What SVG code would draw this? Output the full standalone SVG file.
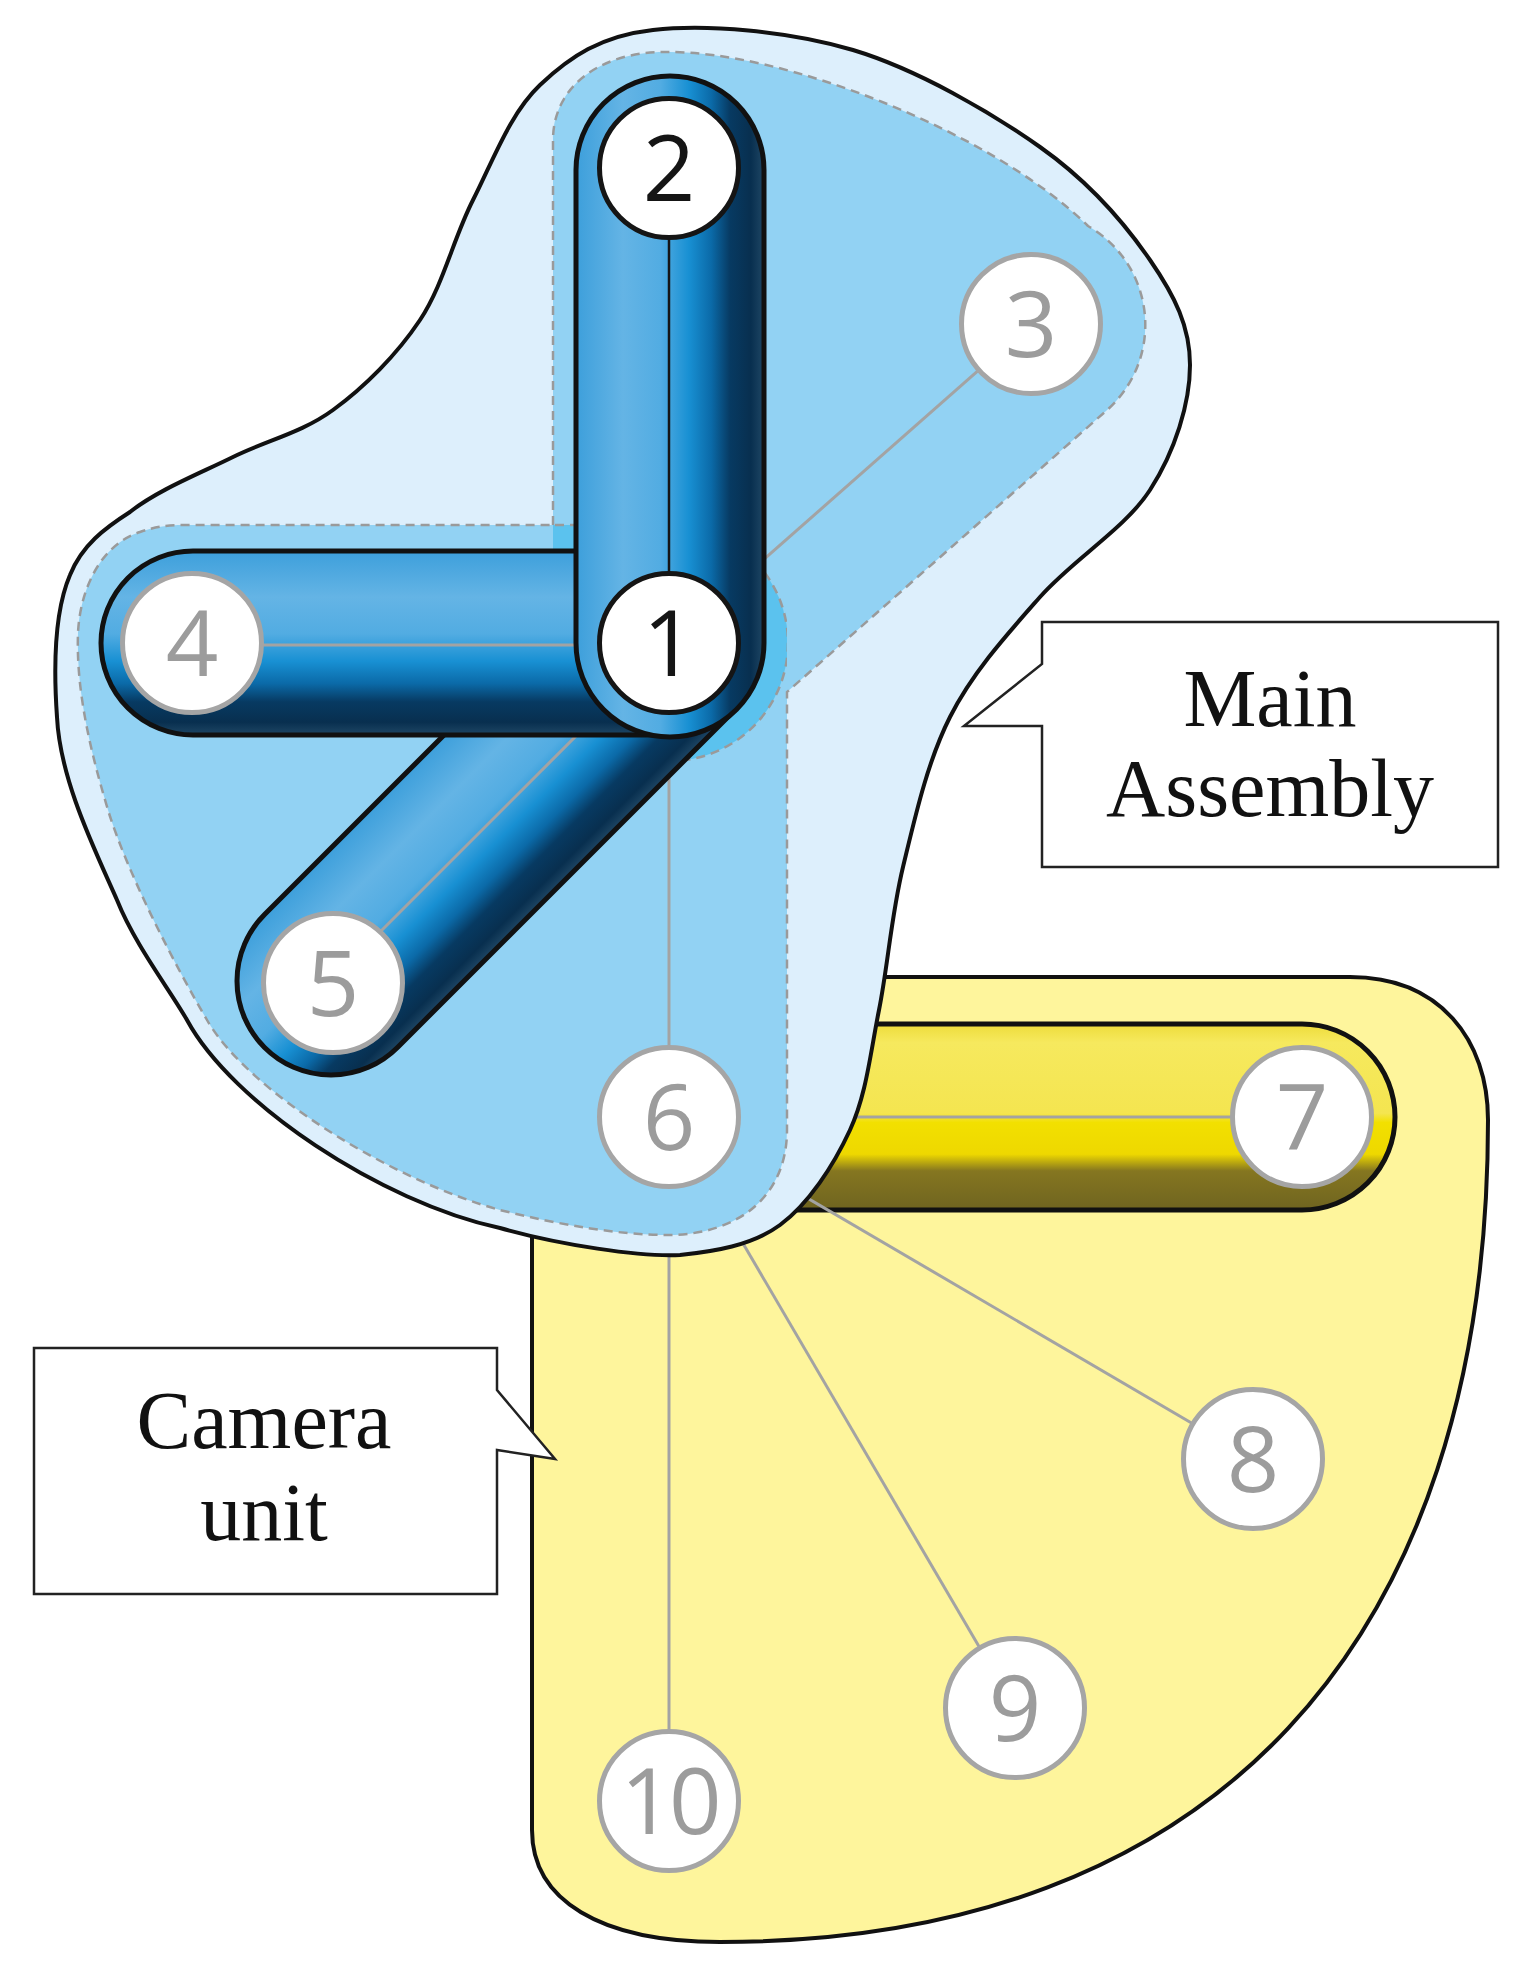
<svg xmlns="http://www.w3.org/2000/svg" width="1532" height="1973" viewBox="0 0 1532 1973">
<defs>
<linearGradient id="gH" x1="0" y1="0" x2="1" y2="0">
<stop offset="0" stop-color="#3d9fdb"/><stop offset="0.25" stop-color="#64b4e5"/><stop offset="0.45" stop-color="#52ace2"/><stop offset="0.6" stop-color="#1890d3"/><stop offset="0.72" stop-color="#0b6aa8"/><stop offset="0.82" stop-color="#073a62"/><stop offset="0.93" stop-color="#082f4f"/><stop offset="1" stop-color="#1f4765"/>
</linearGradient>
<linearGradient id="gV" x1="0" y1="0" x2="0" y2="1">
<stop offset="0" stop-color="#3d9fdb"/><stop offset="0.25" stop-color="#64b4e5"/><stop offset="0.45" stop-color="#52ace2"/><stop offset="0.6" stop-color="#1890d3"/><stop offset="0.72" stop-color="#0b6aa8"/><stop offset="0.82" stop-color="#073a62"/><stop offset="0.93" stop-color="#082f4f"/><stop offset="1" stop-color="#1f4765"/>
</linearGradient>
<linearGradient id="gY" x1="0" y1="0" x2="0" y2="1">
<stop offset="0" stop-color="#eedc3a"/><stop offset="0.1" stop-color="#f6e95e"/><stop offset="0.48" stop-color="#f4e550"/><stop offset="0.53" stop-color="#f2e000"/><stop offset="0.7" stop-color="#eed800"/><stop offset="0.79" stop-color="#857620"/><stop offset="1" stop-color="#6f6420"/>
</linearGradient>
<clipPath id="band"><rect x="553" y="0" width="234" height="1973"/></clipPath>
</defs>
<style>
.tube{stroke:#111;stroke-width:5}
.link{stroke:#a3a3a3;stroke-width:3;fill:none}
.node circle{fill:#fff;stroke-width:5}
.dark circle{stroke:#151515}
.dark text{fill:#151515}
.light circle{stroke:#a5a5a5}
.light text{fill:#9c9c9c}
.node text{font-family:"Open Sans","Noto Sans",sans-serif;font-size:92px;text-anchor:middle}
.callout path{fill:#fff;stroke:#222;stroke-width:2.5}
.callout text{font-family:"Liberation Serif",serif;font-size:82px;text-anchor:middle;fill:#111}
.dash{stroke:#9a9a9a;stroke-width:2.5;stroke-dasharray:9 6}
</style>
<rect x="0" y="0" width="1532" height="1973" fill="#ffffff"/>

<g id="camera-unit">
<path d="M 820,977 L 1350,977 C 1440,977 1488,1040 1488,1120 C 1488,1645 1212,1942 720,1942 C 600,1942 532,1900 532,1830 L 532,1150 Z" fill="#fef59c" stroke="#111" stroke-width="4"/>
<rect class="tube" x="576" y="1024" width="819" height="186" rx="93" fill="url(#gY)"/>
</g>

<g id="connectors-camera">
<line class="link" x1="669" y1="1117" x2="1302" y2="1117"/>
<line class="link" x1="669" y1="1117" x2="1253" y2="1459"/>
<line class="link" x1="669" y1="1117" x2="1015" y2="1708"/>
<line class="link" x1="669" y1="1117" x2="669" y2="1801"/>
</g>

<g id="main-assembly">
<path d="M 653,30 C 705.2,24.2 788.5,30.5 853,50 C 917.5,69.5 990.5,112 1040,147 C 1089.5,182 1125,223.7 1150,260 C 1175,296.3 1190,326.7 1190,365 C 1190,403.3 1175,451.3 1150,490 C 1125,528.7 1073.3,559.2 1040,597 C 1006.7,634.8 972.8,672 950,717 C 927.2,762 914.8,818.2 903,867 C 891.2,915.8 887.8,966.2 879,1010 C 870.2,1053.8 866.5,1094.2 850,1130 C 833.5,1165.8 808.3,1204.2 780,1225 C 751.7,1245.8 713.3,1251.5 680,1255 C 640,1257 560,1245 500,1228 C 380,1202 232,1103 187,1020 C 170,990 135,945 117,900 C 95,850 60,780 57,717 C 53,660 55,610 70,575 C 82,545 105,528 130,512 C 157.2,490.3 199.2,473.7 233,457 C 266.8,440.3 301.8,432.8 333,410 C 364.2,387.2 396.7,355 420,320 C 443.3,285 453,239.2 473,200 C 493,160.8 510,113.3 540,85 C 570,56.7 600.8,35.8 653,30 Z" fill="#ddeffc" stroke="#111" stroke-width="4"/>
<path class="dash" d="M 553,525 L 553,140 C 553,88 598,52 665,52 C 780,50 990,130 1088,226 A 114 114 0 0 1 1106,411 L 787,692 L 787,1130 C 787,1195 740,1235 667,1235 C 620,1235 560,1225 500,1210 C 390,1180 247,1090 207,1020 C 175,965 128,875 108,810 C 90,750 76,690 78,633 C 80,590 100,545 140,532 C 155,527 165,525 185,525 Z" fill="#92d2f3"/>
<path class="dash" clip-path="url(#band)" d="M 180,525 L 670,525 A 118 118 0 0 1 670,761 L 180,761 Z" fill="#5bc2ee"/>
</g>

<g id="connectors-main">
<line class="link" x1="669" y1="643" x2="669" y2="1117"/>
<line class="link" x1="669" y1="643" x2="1031" y2="324"/>
</g>

<g id="tube-1-5" transform="rotate(45 669 643)">
<rect class="tube" x="575" y="549" width="188" height="666" rx="94" fill="url(#gH)"/>
<line class="link" x1="669" y1="643" x2="669" y2="1121"/>
</g>
<g id="tube-1-4">
<rect class="tube" x="101" y="551" width="660" height="184" rx="92" fill="url(#gV)"/>
<line class="link" x1="192" y1="645" x2="669" y2="645"/>
</g>
<g id="tube-1-2">
<rect class="tube" x="576" y="76" width="188" height="661" rx="94" fill="url(#gH)"/>
<line x1="669" y1="168" x2="669" y2="643" stroke="#151515" stroke-width="2.5"/>
</g>

<g id="node-1" class="node dark"><circle cx="669" cy="643" r="69.5"/><text x="669" y="676">1</text></g>
<g id="node-2" class="node dark"><circle cx="669" cy="168" r="69.5"/><text x="669" y="201">2</text></g>
<g id="node-3" class="node light"><circle cx="1031" cy="324" r="69.5"/><text x="1031" y="357">3</text></g>
<g id="node-4" class="node light"><circle cx="192" cy="643" r="69.5"/><text x="192" y="676">4</text></g>
<g id="node-5" class="node light"><circle cx="333" cy="983" r="69.5"/><text x="333" y="1016">5</text></g>
<g id="node-6" class="node light"><circle cx="669" cy="1117" r="69.5"/><text x="669" y="1150">6</text></g>
<g id="node-7" class="node light"><circle cx="1302" cy="1117" r="69.5"/><text x="1302" y="1150">7</text></g>
<g id="node-8" class="node light"><circle cx="1253" cy="1459" r="69.5"/><text x="1253" y="1492">8</text></g>
<g id="node-9" class="node light"><circle cx="1015" cy="1708" r="69.5"/><text x="1015" y="1741">9</text></g>
<g id="node-10" class="node light"><circle cx="669" cy="1801" r="69.5"/><text x="669" y="1834" letter-spacing="-4">10</text></g>

<g id="callout-main" class="callout">
<path d="M 1042,622 L 1498,622 L 1498,867 L 1042,867 L 1042,726 L 964,726 L 1042,664 Z"/>
<text x="1270" y="726">Main</text>
<text x="1270" y="816">Assembly</text>
</g>
<g id="callout-camera" class="callout">
<path d="M 34,1348 L 497,1348 L 497,1390 L 555,1459 L 497,1450 L 497,1594 L 34,1594 Z"/>
<text x="264" y="1448">Camera</text>
<text x="264" y="1540">unit</text>
</g>
</svg>
